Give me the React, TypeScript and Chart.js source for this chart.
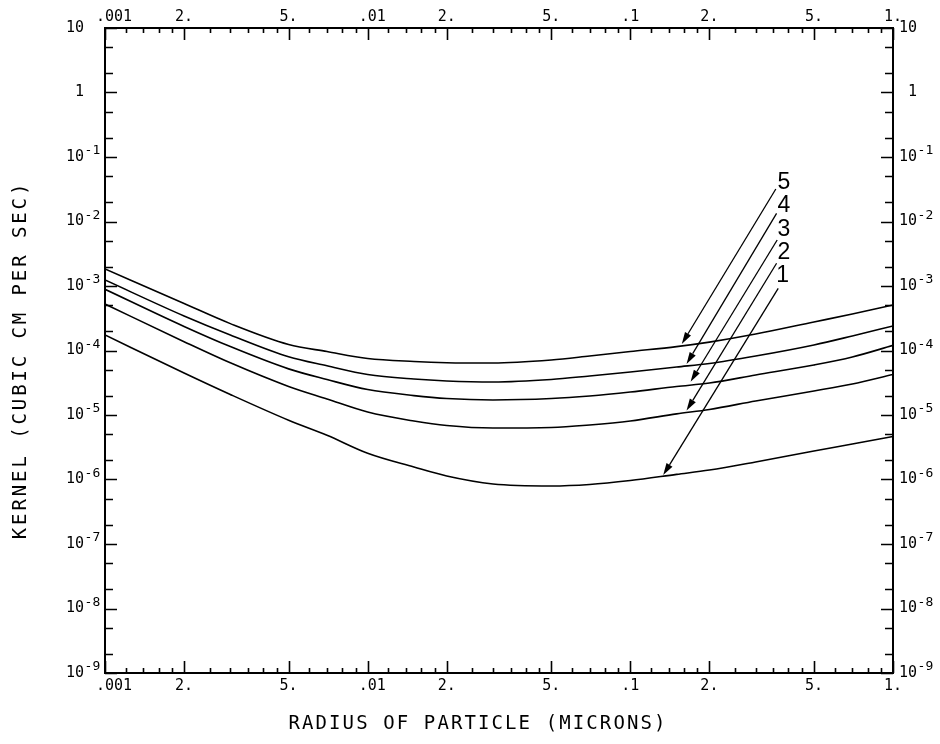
import React, { useEffect, useRef } from 'react';
import { Chart, registerables } from 'chart.js';

Chart.register(...registerables);

// Particle radius (microns)
const radius = [0.001, 0.002, 0.003, 0.005, 0.007, 0.01, 0.015, 0.02, 0.03, 0.05, 0.07, 0.1, 0.15, 0.2, 0.3, 0.5, 0.7, 1];

// Kernel (cubic cm per sec) for curves 1..5
const kernel1 = [1.74e-4, 4.48e-5, 2.08e-5, 8.3e-6, 4.85e-6, 2.55e-6, 1.56e-6, 1.13e-6, 8.51e-7, 7.93e-7, 8.36e-7, 9.64e-7, 1.2e-6, 1.4e-6, 1.87e-6, 2.77e-6, 3.55e-6, 4.65e-6];
const kernel2 = [5.26e-4, 1.37e-4, 6.44e-5, 2.77e-5, 1.77e-5, 1.11e-5, 8.07e-6, 6.87e-6, 6.28e-6, 6.4e-6, 7.0e-6, 8.07e-6, 1.04e-5, 1.22e-5, 1.65e-5, 2.36e-5, 3.03e-5, 4.25e-5];
const kernel3 = [8.89e-4, 2.36e-4, 1.15e-4, 5.19e-5, 3.55e-5, 2.48e-5, 2.0e-5, 1.8e-5, 1.71e-5, 1.8e-5, 1.97e-5, 2.27e-5, 2.77e-5, 3.13e-5, 4.17e-5, 5.96e-5, 7.93e-5, 1.2e-4];
const kernel4 = [1.24e-3, 3.43e-4, 1.74e-4, 8.01e-5, 5.8e-5, 4.25e-5, 3.61e-5, 3.37e-5, 3.25e-5, 3.55e-5, 4.03e-5, 4.65e-5, 5.55e-5, 6.29e-5, 8.22e-5, 1.22e-4, 1.68e-4, 2.4e-4];
const kernel5 = [1.84e-3, 5.35e-4, 2.61e-4, 1.24e-4, 9.64e-5, 7.52e-5, 6.75e-5, 6.47e-5, 6.4e-5, 7.13e-5, 8.22e-5, 9.64e-5, 1.15e-4, 1.35e-4, 1.8e-4, 2.77e-4, 3.68e-4, 5.07e-4];

// X axis labels
const xLabelValues = [0.001, 0.002, 0.005, 0.01, 0.02, 0.05, 0.1, 0.2, 0.5, 1];
const xLabelTexts = ['  .001', '2.', '5.', ' .01', '2.', '5.', '.1', '2.', '5.', '1.'];
const xDecades = [0.001, 0.01, 0.1];
const xMajorMult = [1, 2, 5];
const xMinorMult = [1.2, 1.4, 1.6, 1.8, 2.5, 3, 3.5, 4, 4.5, 6, 7, 8, 9];

// Y axis labels (base + exponent)
const yLabelValues = [1e-9, 1e-8, 1e-7, 1e-6, 1e-5, 1e-4, 1e-3, 1e-2, 1e-1, 1, 10];
const yLabelBase = ['10', '10', '10', '10', '10', '10', '10', '10', '10', ' 1', '10'];
const yLabelExp = ['-9', '-8', '-7', '-6', '-5', '-4', '-3', '-2', '-1', '', ''];
const yMinorMult = [2, 5];

// Curve annotations (data coordinates)
const arrowLabels = ['5', '4', '3', '2', '1'];
const arrowLabelX = [0.384, 0.384, 0.384, 0.384, 0.38];
const arrowLabelY = [0.0395, 0.0174, 7.52e-3, 3.3e-3, 1.43e-3];
const arrowFromX = [0.358, 0.3604, 0.3623, 0.3604, 0.3656];
const arrowFromY = [0.0319, 0.0134, 5.16e-3, 2.25e-3, 9.2e-4];
const arrowToX = [0.157, 0.1637, 0.1696, 0.1637, 0.1334];
const arrowToY = [1.26e-4, 6.18e-5, 3.28e-5, 1.17e-5, 1.17e-6];

const xTitle = 'RADIUS OF PARTICLE (MICRONS)';
const yTitle = 'KERNEL (CUBIC CM PER SEC)';

const MONO = '"DejaVu Sans Mono", monospace';
const tickFont = { family: MONO, size: 15 };

const framePlugin = {
  id: 'framePlugin',
  afterDraw(chart: any) {
    const ctx = chart.ctx as CanvasRenderingContext2D;
    const a = chart.chartArea;
    const xs = chart.scales.x;
    const ys = chart.scales.y;
    ctx.save();
    ctx.strokeStyle = '#000';
    ctx.fillStyle = '#000';
    ctx.lineWidth = 1.6;
    ctx.lineCap = 'butt';

    // x ticks (inward, top and bottom)
    const xTick = (v: number, len: number) => {
      const px = Math.round(xs.getPixelForValue(v)) + 0.5;
      ctx.beginPath();
      ctx.moveTo(px, a.bottom);
      ctx.lineTo(px, a.bottom - len);
      ctx.moveTo(px, a.top);
      ctx.lineTo(px, a.top + len);
      ctx.stroke();
    };
    for (const d of xDecades) {
      for (const m of xMajorMult) xTick(d * m, 12);
      for (const m of xMinorMult) xTick(d * m, 5);
    }
    xTick(1, 12);

    // y ticks (inward, left and right)
    const yTick = (v: number, len: number) => {
      const py = Math.round(ys.getPixelForValue(v)) + 0.5;
      ctx.beginPath();
      ctx.moveTo(a.left, py);
      ctx.lineTo(a.left + len, py);
      ctx.moveTo(a.right, py);
      ctx.lineTo(a.right - len, py);
      ctx.stroke();
    };
    for (const v of yLabelValues) {
      yTick(v, 12);
      if (v < 10) for (const m of yMinorMult) yTick(v * m, 8);
    }

    // y tick labels, both sides, with raised exponents
    const leftX = a.left - 39;
    const rightX = a.right + 6;
    for (let i = 0; i < yLabelValues.length; i++) {
      const py = ys.getPixelForValue(yLabelValues[i]);
      for (const x0 of [leftX, rightX]) {
        ctx.font = `15px ${MONO}`;
        ctx.textAlign = 'left';
        ctx.textBaseline = 'middle';
        ctx.fillText(yLabelBase[i], x0, py);
        if (yLabelExp[i]) {
          const w = ctx.measureText(yLabelBase[i]).width;
          ctx.font = `13px ${MONO}`;
          ctx.textBaseline = 'alphabetic';
          ctx.fillText(yLabelExp[i], x0 + w + 0.5, py - 3);
        }
      }
    }

    // arrows and labels
    ctx.lineWidth = 1.3;
    for (let i = 0; i < arrowLabels.length; i++) {
      const x0 = xs.getPixelForValue(arrowFromX[i]);
      const y0 = ys.getPixelForValue(arrowFromY[i]);
      const x1 = xs.getPixelForValue(arrowToX[i]);
      const y1 = ys.getPixelForValue(arrowToY[i]);
      const ang = Math.atan2(y1 - y0, x1 - x0);
      const hl = 12;
      const hw = 3.5;
      const bx = x1 - hl * Math.cos(ang);
      const by = y1 - hl * Math.sin(ang);
      ctx.beginPath();
      ctx.moveTo(x0, y0);
      ctx.lineTo(bx, by);
      ctx.stroke();
      ctx.beginPath();
      ctx.moveTo(x1, y1);
      ctx.lineTo(bx + hw * Math.sin(ang), by - hw * Math.cos(ang));
      ctx.lineTo(bx - hw * Math.sin(ang), by + hw * Math.cos(ang));
      ctx.closePath();
      ctx.fill();

      ctx.font = '23px "Liberation Sans", sans-serif';
      ctx.textAlign = 'center';
      ctx.textBaseline = 'middle';
      ctx.fillText(arrowLabels[i], xs.getPixelForValue(arrowLabelX[i]), ys.getPixelForValue(arrowLabelY[i]));
    }

    // axis titles
    ctx.font = `19px ${MONO}`;
    ctx.textAlign = 'center';
    ctx.textBaseline = 'middle';
    (ctx as any).letterSpacing = '2.1px';
    ctx.fillText(xTitle, 478, 724);
    ctx.save();
    ctx.translate(21, 360);
    ctx.rotate(-Math.PI / 2);
    (ctx as any).letterSpacing = '2.9px';
    ctx.fillText(yTitle, 0, 0);
    ctx.restore();
    (ctx as any).letterSpacing = '0px';
    ctx.restore();
  },
};

function xScale(position: 'top' | 'bottom', size: number, pad: number) {
  return {
    type: 'logarithmic',
    position,
    min: 0.001,
    max: 1,
    afterFit: (s: any) => {
      s.height = size;
    },
    afterBuildTicks: (s: any) => {
      s.ticks = xLabelValues.map((v) => ({ value: v }));
    },
    grid: { display: false, drawTicks: false },
    border: { display: true, color: '#000', width: 2 },
    ticks: {
      autoSkip: false,
      maxRotation: 0,
      minRotation: 0,
      padding: pad,
      color: '#000',
      font: tickFont,
      callback: (_v: any, i: number) => xLabelTexts[i],
    },
  };
}

function yScale(position: 'left' | 'right', size: number) {
  return {
    type: 'logarithmic',
    position,
    min: 1e-9,
    max: 10,
    afterFit: (s: any) => {
      s.width = size;
    },
    afterBuildTicks: (s: any) => {
      s.ticks = yLabelValues.map((v) => ({ value: v }));
    },
    grid: { display: false, drawTicks: false },
    border: { display: true, color: '#000', width: 2 },
    ticks: { display: false },
  };
}

export default function App() {
  const ref = useRef<HTMLCanvasElement | null>(null);
  useEffect(() => {
    if (!ref.current) return;
    const series = [kernel1, kernel2, kernel3, kernel4, kernel5];
    const chart = new Chart(ref.current, {
      type: 'line',
      data: {
        datasets: series.map((k, si) => ({
          label: String(si + 1),
          data: radius.map((r, i) => ({ x: r, y: k[i] })),
          borderColor: '#000',
          borderWidth: 1.6,
          pointRadius: 0,
          fill: false,
          cubicInterpolationMode: 'monotone',
          xAxisID: 'x',
          yAxisID: 'y',
        })),
      },
      options: {
        responsive: false,
        animation: false,
        devicePixelRatio: 1,
        layout: { padding: 0 },
        plugins: { legend: { display: false }, tooltip: { enabled: false } },
        scales: {
          x: xScale('bottom', 71, 4),
          x2: xScale('top', 28, 2),
          y: yScale('left', 105),
          y2: yScale('right', 47),
        } as any,
      },
      plugins: [framePlugin],
    } as any);
    return () => chart.destroy();
  }, []);
  return (
    <div style={{ position: 'fixed', left: 0, top: 0, width: 940, height: 744, background: '#fff' }}>
      <canvas ref={ref} width={940} height={744} style={{ display: 'block', width: 940, height: 744 }} />
    </div>
  );
}
